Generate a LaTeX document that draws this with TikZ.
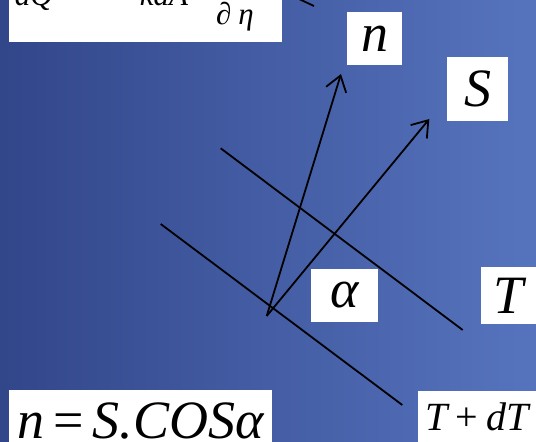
\documentclass[tikz,border=0pt]{standalone}
\usepackage{amsmath}
\usepackage{fontspec}
\setmainfont{Liberation Serif}
\usetikzlibrary{arrows.meta}

\begin{document}
\begin{tikzpicture}[x=1pt,y=-1pt,
  tag/.style={fill=white,inner sep=0pt,align=center,
    font=\fontsize{54}{60}\selectfont\itshape},
  isoline/.style={draw=black,line width=1.8pt},
  vec/.style={isoline,-{Straight Barb[length=15pt,width=21pt]}}]
\useasboundingbox (0,0) rectangle (536,442);
\clip (0,0) rectangle (536,442);
\shade[left color={rgb,255:red,50;green,70;blue,138},
  right color={rgb,255:red,86;green,116;blue,190}] (0,0) rectangle (536,442);

\node[tag,font=\fontsize{31}{36}\selectfont\itshape,
  text height=47pt,text depth=37pt,minimum width=273pt] (heat) at (145.5,0)
  {\makebox[273pt][l]{\hspace{6pt}dQ\hspace{21pt}{\upshape =}\hspace{15pt}{\upshape −}\hspace{16pt}kdA\hspace{26pt}%
  $\displaystyle\frac{\hbox{{\upshape ∂}\hspace{7pt}T}}{\hbox{{\upshape ∂}\hspace{7pt}η}}$}};
\node[tag,minimum width=55pt,minimum height=53pt] (nlab) at (374.5,38.5) {n};
\node[tag,minimum width=61pt,minimum height=64pt] (slab) at (477.5,89) {S};
\node[tag,minimum width=67pt,minimum height=53pt] (alab) at (344.5,295.5) {α};
\node[tag,minimum width=55pt,minimum height=57pt] (tlab) at (508.5,295.5) {T};
\node[tag,font=\fontsize{40}{44}\selectfont\itshape,
  minimum width=118pt,minimum height=51pt] (tdlab) at (477,416.5)
  {T\hspace{0.2em}{\upshape +}\hspace{0.2em}dT};
\node[tag,font=\fontsize{54}{60}\selectfont\itshape,
  minimum width=263pt,minimum height=62pt] (cos) at (140.5,421) {n\,{\upshape =}\,S.COSα};

\coordinate (o) at (266.7,316);
\coordinate (ntip) at (341,74);
\coordinate (stip) at (429.3,119);
\coordinate (t1) at (220.7,148.3);
\coordinate (t2) at (462.7,330);
\coordinate (d1) at (160.7,224);
\coordinate (d2) at (402.3,405);
\coordinate (f1) at (299,-1);
\coordinate (f2) at (314,6);

\draw[isoline] (t1)--(t2);
\draw[isoline] (d1)--(d2);
\draw[isoline] (f1)--(f2);
\draw[vec] (o)--(ntip);
\draw[vec] (o)--(stip);
\end{tikzpicture}
\end{document}
